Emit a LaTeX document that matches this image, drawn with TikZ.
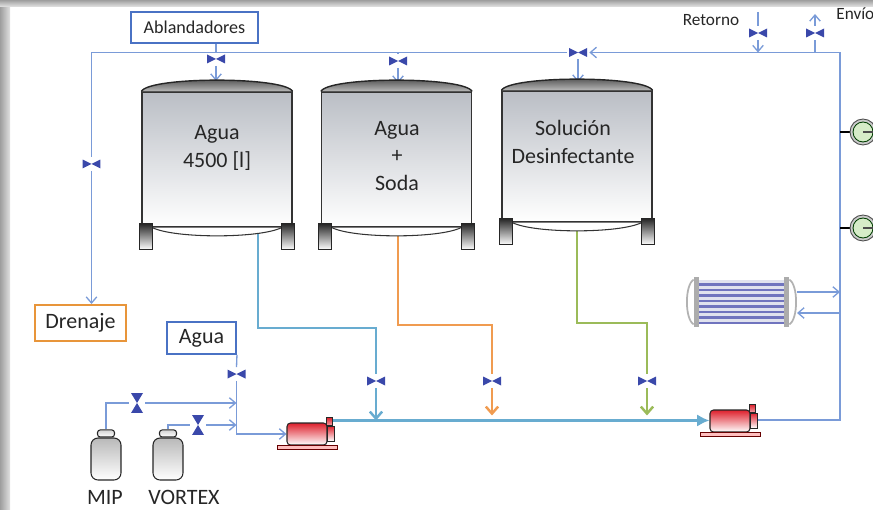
\documentclass[tikz,border=0pt]{standalone}
\usepackage{fontspec}
\setmainfont{Carlito}
\usetikzlibrary{arrows.meta, positioning, calc, backgrounds}

\definecolor{pipeblue}{RGB}{122,155,216}
\definecolor{boxblue}{RGB}{74,114,196}
\definecolor{drainorange}{RGB}{232,149,58}
\definecolor{valveblue}{RGB}{58,72,170}
\definecolor{waterline}{RGB}{104,172,208}
\definecolor{sodaline}{RGB}{240,155,80}
\definecolor{disinfline}{RGB}{155,187,89}
\definecolor{tankgray}{RGB}{186,190,197}
\definecolor{pumpred}{RGB}{222,32,44}
\definecolor{gaugegreen}{RGB}{214,236,200}
\definecolor{tubeblue}{RGB}{112,116,190}
\definecolor{txt}{RGB}{38,38,38}

% dome, dished bottom and legs around a tank body node
\newcommand\tankparts[1]{%
  \fill[top color=black!75, bottom color=gray!55]
    (#1.north west) .. controls ($(#1.north west)+(8,-15)$) and ($(#1.north east)+(-8,-15)$) .. (#1.north east) -- cycle;
  \draw[black!85, line width=0.8pt]
    (#1.north west) .. controls ($(#1.north west)+(8,-15)$) and ($(#1.north east)+(-8,-15)$) .. (#1.north east);
  \draw[black!80, line width=0.6pt, fill=white]
    ($(#1.south west)+(11,0)$) .. controls ($(#1.south west)+(33,11)$) and ($(#1.south east)+(-33,11)$) .. ($(#1.south east)+(-11,0)$);
  \draw[black!85, line width=0.6pt, top color=black!85, bottom color=white]
    ($(#1.south west)+(-2,-4)$) rectangle ($(#1.south west)+(11,22)$);
  \draw[black!85, line width=0.6pt, top color=black!85, bottom color=white]
    ($(#1.south east)+(-11,-4)$) rectangle ($(#1.south east)+(2,22)$);
}

% flange, outlet and base of a pump body node
\newcommand\pumpparts[1]{%
  \draw[black!85, line width=0.5pt, top color=pumpred, bottom color=white]
    ($(#1.east)+(0,-8)$) rectangle ($(#1.east)+(7,7)$);
  \draw[black!85, line width=0.5pt, top color=pumpred, bottom color=pumpred!40]
    ($(#1.north east)+(-1,-5)$) rectangle ($(#1.north east)+(5,3)$);
  \draw[black!60!red, line width=0.5pt, fill=red!25]
    ($(#1.south west)+(-9,0)$) rectangle ($(#1.south east)+(10,4)$);
}

\begin{document}
\begin{tikzpicture}[
  x=0.02cm, y=-0.02cm,
  pipe/.style   = {draw=pipeblue, line width=0.75pt},
  flow/.style   = {pipe, -{Straight Barb[length=3.5pt,width=6pt]}},
  outlet/.style = {line width=1.4pt, -{Straight Barb[length=4pt,width=7pt]}},
  mainline/.style = {draw=waterline, line width=2.2pt, -{Latex[length=7pt,width=7pt]}},
  namebox/.style = {draw=boxblue, line width=1.1pt, fill=white, text=txt,
    inner sep=0pt, font=\fontsize{12.5}{15}\selectfont},
  tankbody/.style = {draw=black!80, line width=0.7pt, top color=tankgray, bottom color=white,
    minimum width=3cm, minimum height=2.7cm, inner sep=0pt},
  tanktext/.style = {text=txt, align=center, font=\fontsize{12.5}{15.5}\selectfont},
  valveh/.style = {minimum width=0.44cm, minimum height=0.26cm, inner sep=0pt, fill=white,
    path picture={
      \fill[valveblue] ([shift={(0.04cm,-0.04cm)}]path picture bounding box.north west)
        -- (path picture bounding box.center)
        -- ([shift={(0.04cm,0.04cm)}]path picture bounding box.south west) -- cycle;
      \fill[valveblue] ([shift={(-0.04cm,-0.04cm)}]path picture bounding box.north east)
        -- (path picture bounding box.center)
        -- ([shift={(-0.04cm,0.04cm)}]path picture bounding box.south east) -- cycle;
    }},
  valvev/.style = {minimum width=0.32cm, minimum height=0.48cm, inner sep=0pt, fill=white,
    path picture={
      \fill[valveblue] ([shift={(0.04cm,-0.04cm)}]path picture bounding box.north west)
        -- ([shift={(-0.04cm,-0.04cm)}]path picture bounding box.north east)
        -- (path picture bounding box.center) -- cycle;
      \fill[valveblue] ([shift={(0.04cm,0.04cm)}]path picture bounding box.south west)
        -- ([shift={(-0.04cm,0.04cm)}]path picture bounding box.south east)
        -- (path picture bounding box.center) -- cycle;
    }},
  pumpbody/.style = {draw=black!85, line width=0.6pt, rounded corners=2pt,
    top color=pumpred, bottom color=white, minimum width=0.8cm, minimum height=0.44cm, inner sep=0pt},
  bottle/.style = {draw=black!85, line width=0.6pt, rounded corners=4pt,
    top color=gray!55, bottom color=white, minimum width=0.6cm, minimum height=0.84cm, inner sep=0pt},
  bottlecap/.style = {bottle, rounded corners=1.5pt, minimum width=0.34cm, minimum height=0.14cm, top color=gray!35},
  gauge/.style = {circle, draw=black!70, line width=0.5pt, fill=gray!40, minimum size=0.52cm, inner sep=0pt,
    path picture={
      \draw[black!60!green!60!black, fill=gaugegreen] (path picture bounding box.center) circle (0.2cm);
      \draw[line width=0.9pt] (path picture bounding box.center) -- ++(0.3cm,0);
    }},
  exch/.style = {minimum width=1.7cm, minimum height=0.88cm, inner sep=0pt, fill={rgb,255:red,224;green,226;blue,238},
    path picture={
      \foreach \k in {0,...,7}
        \fill[tubeblue] ($(path picture bounding box.north west)+(0,3+\k*5.5)$) rectangle ++(90,2.6);
    }},
  small/.style = {text=txt, font=\fontsize{9.8}{12}\selectfont, inner sep=0pt},
]
\useasboundingbox (0,0) rectangle (873,510);

% boxes
\node[namebox, font=\fontsize{10.3}{12}\selectfont, minimum width=2.54cm, minimum height=0.62cm] (abl) at (194.5,27.5) {Ablandadores};
\node[namebox, draw=drainorange, minimum width=1.82cm, minimum height=0.72cm] (dren) at (80.5,323) {Drenaje};
\node[namebox, minimum width=1.38cm, minimum height=0.64cm] (aguabox) at (201.5,338) {Agua};

% tanks
\node[tankbody] (t1) at (217,159.5) {};
\node[tankbody] (t2) at (396.5,159.5) {};
\node[tankbody, minimum height=2.62cm] (t3) at (577,156.5) {};
\tankparts{t1}
\tankparts{t2}
\tankparts{t3}
\node[tanktext] (t1txt) at (217,148) {Agua\\4500 [l]};
\node[tanktext] (t2txt) at (397,156) {Agua\\+\\Soda};
\node[tanktext] (t3txt) at (573,142) {Solución\\Desinfectante};

% valves
\node[valveh] (v_abl)  at (216,59) {};
\node[valveh] (v_t2)   at (398,61) {};
\node[valveh] (v_t3)   at (578,52.5) {};
\node[valveh] (v_dren) at (91.5,164) {};
\node[valveh] (v_ret)  at (758,33) {};
\node[valveh] (v_env)  at (815,33) {};
\node[valveh] (v_agua) at (236.5,374) {};
\node[valveh] (v_b1)   at (376,381) {};
\node[valveh] (v_b2)   at (492,381) {};
\node[valveh] (v_b3)   at (647,381) {};
\node[valvev] (v_mip)  at (137,403) {};
\node[valvev] (v_vor)  at (198,425) {};

% pumps
\node[pumpbody] (p1) at (307,434) {};
\node[pumpbody] (p2) at (730,421) {};
\pumpparts{p1}
\pumpparts{p2}
\coordinate (p1out) at ($(p1.north east)+(5,-2)$);
\coordinate (p2out) at ($(p2.east)+(7,-1)$);

% dosing bottles
\node[bottle] (mip) at (106,459) {};
\node[bottlecap, above=0pt of mip] (mipcap) {};
\node[bottle] (vortex) at (168,459) {};
\node[bottlecap, above=0pt of vortex] (vorcap) {};
\node[text=txt, font=\fontsize{12.5}{15}\selectfont] (miplbl) at (105,497) {MIP};
\node[text=txt, font=\fontsize{12.5}{15}\selectfont] (vorlbl) at (184,497) {VORTEX};

% heat exchanger and gauges
\node[exch] (hx) at (741.5,302) {};
\fill[gray!65] ($(hx.north west)+(-5,-3)$) rectangle ($(hx.south west)+(0,3)$);
\fill[gray!65] ($(hx.north east)+(0,-3)$) rectangle ($(hx.south east)+(5,3)$);
\draw[gray!60, line width=1pt] ($(hx.north west)+(-5,0)$) .. controls ($(hx.north west)+(-14,5)$) and ($(hx.south west)+(-14,-5)$) .. ($(hx.south west)+(-5,0)$);
\draw[gray!60, line width=1pt] ($(hx.north east)+(5,0)$) .. controls ($(hx.north east)+(14,5)$) and ($(hx.south east)+(14,-5)$) .. ($(hx.south east)+(5,0)$);
\node[gauge] (g1) at (863,132) {};
\node[gauge] (g2) at (863,228) {};

\node[small] (retlbl) at (711,20) {Retorno};
\node[small, anchor=west] (envlbl) at (836,14) {Envío};

% corners and ends of the lines
\coordinate (rtop) at (840,52.5);
\coordinate (rbot) at (840,420);
\coordinate (ltop) at (91.5,52.5);
\coordinate (rt)   at (758,12);
\coordinate (et)   at (815,14);
\coordinate (d1) at (216,81);
\coordinate (d2) at (398,83);
\coordinate (d3) at (578,82);
\coordinate (o1) at (258,234);
\coordinate (o2) at (398,235);
\coordinate (o3) at (577,229);
\coordinate (b1c) at (376,328);
\coordinate (b2c) at (492,325);
\coordinate (b3c) at (647,323);
\coordinate (hxo) at (797,292);
\coordinate (hxi) at (797,313);

\begin{scope}[on background layer]
  % frame shadow
  \fill[left color=black!38, right color=black!12] (0,0) rectangle (10,510);
  \fill[top color=black!38, bottom color=black!10] (0,0) rectangle (873,7);

  % loop back to the tanks
  \draw[flow] (p2out) -- (rbot) -- (rtop) -- (v_t3.east);
  \draw[pipe] (v_t3.west) -- (ltop) -- (v_dren.north);
  \draw[flow] (v_dren.south) -- (v_dren |- dren.north);
  \draw[pipe] (v_abl |- abl.south) -- (v_abl.north);
  \draw[flow] (v_abl.south) -- (d1);
  \draw[pipe] (v_t2 |- rtop) -- (v_t2.north);
  \draw[flow] (v_t2.south) -- (d2);
  \draw[flow] (v_t3.south) -- (d3);
  \draw[pipe] (rt) -- (v_ret.north);
  \draw[flow] (v_ret.south) -- (v_ret |- rtop);
  \draw[pipe] (v_env |- rtop) -- (v_env.south);
  \draw[flow] (v_env.north) -- (et);

  % heat exchanger and gauges
  \draw[flow] (hxo) -- (hxo -| rtop);
  \draw[flow] (hxi -| rtop) -- (hxi);
  \draw[line width=1.2pt] (g1.west) -- (g1.west -| rtop);
  \draw[line width=1.2pt] (g2.west) -- (g2.west -| rtop);

  % water and dosing into the first pump
  \draw[pipe] (aguabox.south east) -- (v_agua.north);
  \draw[flow] (v_agua.south) |- (p1.west);
  \draw[pipe] (mipcap.north) |- (v_mip.west);
  \draw[flow] (v_mip.east) -- (v_mip.east -| v_agua);
  \draw[pipe] (vorcap.north) |- (v_vor.west);
  \draw[flow] (v_vor.east) -- (v_vor.east -| v_agua);

  % tank outlets
  \draw[draw=waterline, line width=1.4pt] (o1) |- (b1c) -- (v_b1.north);
  \draw[outlet, draw=waterline] (v_b1.south) -- (v_b1 |- p1out);
  \draw[draw=sodaline, line width=1.4pt] (o2) |- (b2c) -- (v_b2.north);
  \draw[outlet, draw=sodaline] (v_b2.south) -- ($(v_b2 |- p1out)+(0,-5)$);
  \draw[draw=disinfline, line width=1.4pt] (o3) |- (b3c) -- (v_b3.north);
  \draw[outlet, draw=disinfline] (v_b3.south) -- ($(v_b3 |- p1out)+(0,-5)$);

  % main line between the pumps
  \draw[mainline] (p1out) -- (p1out -| p2.west);
\end{scope}
\end{tikzpicture}
\end{document}
